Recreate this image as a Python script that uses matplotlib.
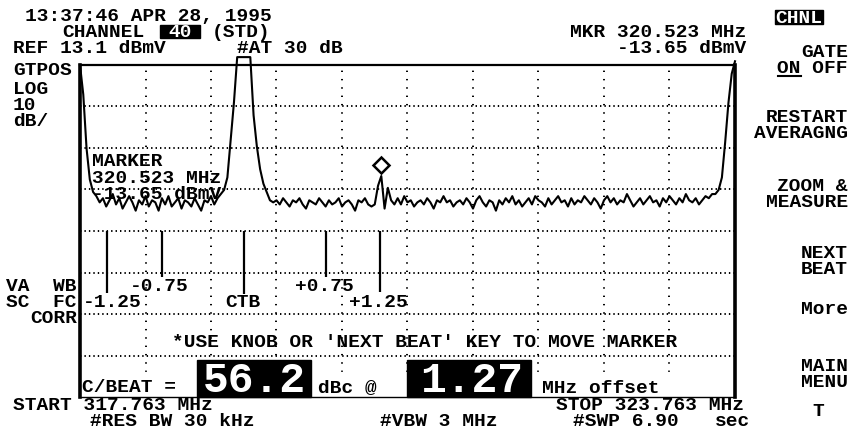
import numpy as np
import matplotlib
matplotlib.use('Agg')
import matplotlib.pyplot as plt
from matplotlib.patches import Rectangle
from matplotlib.lines import Line2D
from matplotlib.transforms import offset_copy

plt.rcParams['lines.scale_dashes'] = False

#%% data (dBmV, 0.03 MHz per point)
start_mhz, stop_mhz = 317.763, 323.763
ref_dbmv, db_per_div = 13.1, 10
carrier_mhz = 319.263
mkr_mhz, mkr_dbmv = 320.523, -13.65

left_edge = [13.1, 6.0, -7.0, -14.5, -17.5]
noise_left = [-18.5, -20.0, -19.0, -21.0, -19.5, -18.0, -20.5, -19.0, -21.5, -20.0,
              -18.5, -20.0, -22.0, -19.5, -20.5, -18.5, -21.0, -19.5, -20.0, -22.0,
              -19.0, -20.5, -18.5, -21.0, -20.0, -19.0, -21.5, -19.5, -20.0, -21.0,
              -19.0, -20.5, -22.0, -19.5, -20.0, -18.5, -20.5, -19.0, -18.0]
carrier = [-17.0, -14.0, -5.0, 4.0, 15.0, 15.0, 15.0, 15.0, 15.0,
           1.0, -6.5, -12.0, -15.5, -17.5, -19.5]
noise_mid = [-20.0, -19.5, -20.5, -19.0, -20.0, -21.0, -19.5, -20.0, -19.0, -20.5,
             -21.5, -19.5, -20.0, -20.5, -19.0, -20.0, -21.0, -19.5, -20.5, -20.0,
             -19.0, -21.0, -20.0, -19.5, -20.5, -22.0, -19.5, -20.0, -19.0, -20.5, -21.0]
beat = [-20.5, -16.0, -13.65, -21.5, -16.5, -19.5, -20.5]
noise_right = [-19.0, -20.5, -18.5, -20.0, -19.5, -21.0, -20.0, -19.5, -20.5, -19.0,
               -20.0, -21.5, -19.5, -20.0, -18.5, -20.0, -19.5, -21.0, -20.0, -19.5,
               -20.5, -19.0, -20.0, -21.5, -19.5, -18.5, -20.0, -21.0, -19.5, -20.0,
               -22.0, -19.5, -20.5, -19.0, -20.0, -18.5, -20.5, -19.5, -21.0, -20.0,
               -19.0, -20.5, -18.5, -19.5, -20.0, -21.0, -19.0, -20.5, -19.5, -18.5,
               -20.0, -19.5, -21.0, -19.0, -20.5, -19.5, -20.0, -18.5, -19.5, -20.5,
               -19.0, -20.0, -21.5, -19.5, -18.5, -20.0, -19.0, -20.5, -19.5, -20.0,
               -18.0, -19.5, -21.0, -20.0, -19.0, -20.5, -19.5, -18.5, -20.0, -19.5,
               -21.0, -19.0, -20.0, -18.5, -19.5, -20.5, -19.0, -20.0, -18.0, -19.5,
               -20.0, -19.0, -20.5, -19.5, -18.5, -19.0, -18.0]
right_edge = [-18.0, -17.0, -14.0, -5.5, 4.0, 11.0, 14.0]

beat_offsets = [-1.25, -0.75, 0.0, 0.75, 1.25]
beat_labels = ['-1.25', '-0.75', 'CTB', '+0.75', '+1.25']
beat_bottoms = [-41.8, -38.0, -42.0, -38.0, -41.5]

trace = np.array(left_edge + noise_left + carrier + noise_mid + beat + noise_right + right_edge)
freq = np.linspace(start_mhz, stop_mhz, len(trace))

#%% figure
W, H = 862, 429
fig = plt.figure(figsize=(W/100, H/100), dpi=100)
FONT = 'Liberation Mono'
SZ = 14

def put(x, y, s, ha='left', size=SZ, color='black'):
    # x,y in screen pixels, y = centre of capitals
    cap = 0.659*size*100/72
    fig.text(x/W, 1-(y+cap/2)/H, s, ha=ha, va='baseline', family=FONT,
             weight='bold', size=size, color=color, zorder=10)

def box(x0, y0, x1, y1):
    fig.add_artist(Rectangle((x0/W, 1-y1/H), (x1-x0)/W, (y1-y0)/H,
                             transform=fig.transFigure, color='black', zorder=9))

ax = fig.add_axes([80/W, 1-397/H, (735-80)/W, (397-65)/H])
ax.set_xlim(start_mhz, stop_mhz)
ax.set_ylim(ref_dbmv-8*db_per_div, ref_dbmv)
ax.set_xticks([]); ax.set_yticks([])
for sp, lw in zip(['left', 'right', 'top', 'bottom'], [2.6, 2.6, 1.6, 1.0]):
    ax.spines[sp].set_linewidth(lw)

span = stop_mhz-start_mhz
for k in range(1, 10):
    ax.axvline(start_mhz+k*span/10, color='black', lw=1.4, ls=(0, (1.0, 5.0)))
for j in range(1, 8):
    ax.axhline(ref_dbmv-j*db_per_div, color='black', lw=1.4, ls=(0, (1.0, 2.2)))

# blank the bottom message strip below the dots
ax.axhspan(ref_dbmv-8*db_per_div, ref_dbmv-7.4*db_per_div, color='white', zorder=2)

ax.plot(freq, trace, color='black', lw=1.5, clip_on=False, zorder=5)
ax.plot([mkr_mhz], [mkr_dbmv], marker='D', ms=8.5, mfc='none', mec='black', mew=1.8,
        transform=offset_copy(ax.transData, fig, y=11, units='dots'), clip_on=False, zorder=6)
ax.vlines([carrier_mhz+o for o in beat_offsets], beat_bottoms, ref_dbmv-4*db_per_div,
          color='black', lw=1.6, zorder=5)

#%% screen annotations
put(25, 15, '13:37:46 APR 28, 1995')
put(62, 31, 'CHANNEL')
box(160, 25, 200, 38); put(180, 31, '40', ha='center', color='white')
put(212, 31, '(STD)')
put(13, 47, 'REF 13.1 dBmV')
put(237, 47, '#AT 30 dB')
put(746, 31, 'MKR 320.523 MHz', ha='right')
put(746, 47, '-13.65 dBmV', ha='right')

box(775, 10, 823, 24); put(799, 17, 'CHNL', ha='center', color='white')
menu = [('GATE', 51), ('ON OFF', 67), ('RESTART', 116), ('AVERAGNG', 132),
        ('ZOOM &', 185), ('MEASURE', 201), ('NEXT', 252), ('BEAT', 268),
        ('More', 308), ('MAIN', 365), ('MENU', 381)]
for s, y in menu:
    put(848, y, s, ha='right')
fig.add_artist(Line2D([778/W, 801/W], [1-76/H, 1-76/H], color='black', lw=1.5))
put(818, 410, 'T', ha='center')

put(13, 69, 'GTPOS')
put(13, 88, 'LOG')
put(13, 104, '10')
put(13, 120, 'dB/')
put(77, 285, 'VA  WB', ha='right')
put(77, 301, 'SC  FC', ha='right')
put(77, 317, 'CORR', ha='right')

put(92, 160, 'MARKER')
put(92, 177, '320.523 MHz')
put(92, 193, '-13.65 dBmV')

put(83, 301, beat_labels[0])
put(159, 285, beat_labels[1], ha='center')
put(243, 301, beat_labels[2], ha='center')
put(324, 285, beat_labels[3], ha='center')
put(378, 301, beat_labels[4], ha='center')

put(425, 341, "*USE KNOB OR 'NEXT BEAT' KEY TO MOVE MARKER", ha='center')

put(82, 386, 'C/BEAT =')
box(197, 360, 311, 397); put(254, 378, '56.2', ha='center', size=31, color='white')
put(318, 387, 'dBc @')
box(407, 360, 531, 397); put(472, 378, '1.27', ha='center', size=31, color='white')
put(542, 387, 'MHz offset')

put(13, 404, 'START 317.763 MHz')
put(744, 404, 'STOP 323.763 MHz', ha='right')
put(90, 420, '#RES BW 30 kHz')
put(380, 420, '#VBW 3 MHz')
put(573, 420, '#SWP 6.90')
put(750, 420, 'sec', ha='right')

fig.savefig('out.png', dpi=100)
